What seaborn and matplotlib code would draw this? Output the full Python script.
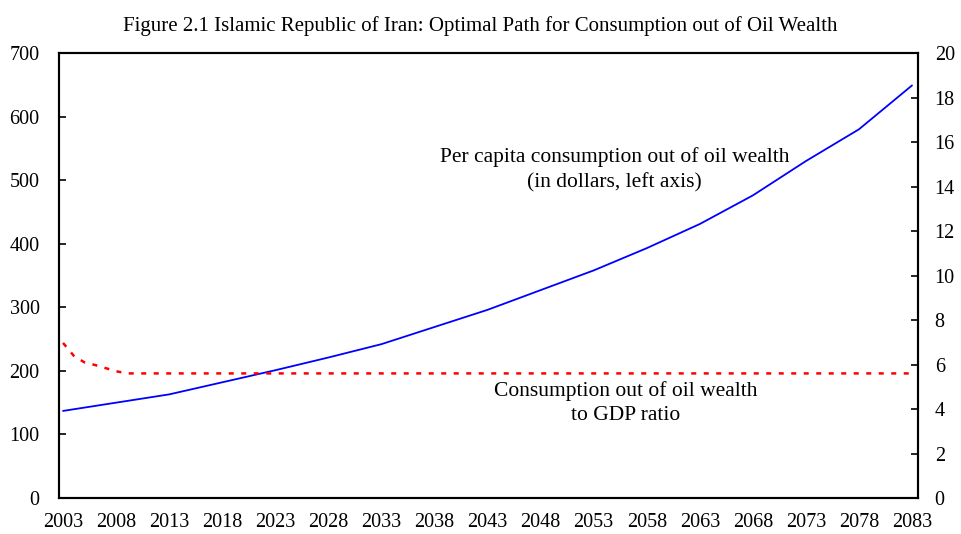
import numpy as np
import pandas as pd
import matplotlib
matplotlib.use("Agg")
import matplotlib.pyplot as plt
import seaborn as sns

# per capita consumption out of oil wealth (dollars, left axis)
years_pc = [2003, 2008, 2013, 2018, 2023, 2028, 2033, 2038, 2043, 2048,
            2053, 2058, 2063, 2068, 2073, 2078, 2083]
per_capita = [137, 150, 163, 182, 201, 221, 242, 269, 296, 327,
              358, 393, 431, 476, 530, 580, 649]

# consumption out of oil wealth to GDP ratio (right axis)
years_ratio = [2003, 2004, 2005, 2006, 2007, 2008, 2009, 2083]
ratio = [6.97, 6.4, 6.1, 5.98, 5.84, 5.7, 5.6, 5.6]

xticks = list(range(2003, 2084, 5))

sns.set_style("white")
plt.rcParams["font.family"] = ["Liberation Serif", "DejaVu Serif"]
plt.rcParams["text.color"] = "black"

fig = plt.figure(figsize=(9.61, 5.34), dpi=100)
ax = fig.add_axes([0.0614, 0.0674, 0.8939, 0.8333])
ax2 = ax.twinx()

df1 = pd.DataFrame({"year": years_pc, "value": per_capita})
df2 = pd.DataFrame({"year": years_ratio, "value": ratio})

sns.lineplot(data=df1, x="year", y="value", ax=ax, color="#0000FF", linewidth=1.3)
sns.lineplot(data=df2, x="year", y="value", ax=ax2, color="#FF0000", linewidth=1.8,
             linestyle=(0, (2, 3)))

ax.set_xlim(2002.62, 2083.57)
ax.set_ylim(0, 700)
ax2.set_ylim(0, 20)
ax.set_xticks(xticks)
ax.set_yticks(range(0, 701, 100))
ax2.set_yticks(range(0, 21, 2))
ax.set_xlabel("")
ax.set_ylabel("")
ax2.set_ylabel("")

for a in (ax, ax2):
    for s in a.spines.values():
        s.set_color("black")
        s.set_linewidth(1.5)
    a.tick_params(direction="in", length=5, width=1.2, labelsize=14.5, colors="black")
ax.tick_params(axis="x", pad=11)
ax.tick_params(axis="y", pad=14)
ax2.tick_params(axis="y", pad=12)

ax.text(2055.0, 516, "Per capita consumption out of oil wealth\n(in dollars, left axis)",
        ha="center", va="center", fontsize=15.5, linespacing=1.4, color="black")
ax.text(2056.0, 149, "Consumption out of oil wealth\nto GDP ratio",
        ha="center", va="center", fontsize=15.5, linespacing=1.35, color="black")

fig.suptitle("Figure 2.1 Islamic Republic of Iran: Optimal Path for Consumption out of Oil Wealth",
             y=0.97, fontsize=15, color="black")

fig.savefig("out.png", dpi=100)
